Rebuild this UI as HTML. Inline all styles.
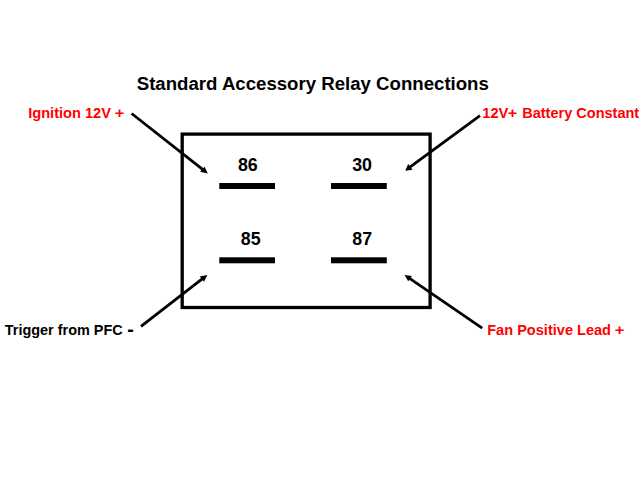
<!DOCTYPE html>
<html><head><meta charset="utf-8">
<style>
html,body{margin:0;padding:0;background:#fff;width:640px;height:480px;overflow:hidden}
svg{display:block}
text{font-family:"Liberation Sans",sans-serif;font-weight:bold;white-space:pre}
</style></head><body>
<svg width="640" height="480" viewBox="0 0 640 480">
<rect x="0" y="0" width="640" height="480" fill="#fff"/>
<text x="136.76" y="89.8" font-size="18.3" fill="#000" textLength="352.10" lengthAdjust="spacingAndGlyphs">Standard Accessory Relay Connections</text>
<text x="28.22" y="118.4" font-size="14.9" fill="#f00" textLength="82.74" lengthAdjust="spacingAndGlyphs">Ignition 12V</text>
<text x="114.71" y="117.7" font-size="15.5" fill="#f00" textLength="9.64" lengthAdjust="spacingAndGlyphs">+</text>
<text x="482.27" y="118.4" font-size="14.9" fill="#f00" textLength="26.16" lengthAdjust="spacingAndGlyphs">12V</text>
<text x="507.82" y="117.7" font-size="15.4" fill="#f00" textLength="9.52" lengthAdjust="spacingAndGlyphs">+</text>
<text x="522.23" y="118.4" font-size="14.9" fill="#f00" textLength="116.98" lengthAdjust="spacingAndGlyphs">Battery Constant</text>
<text x="4.84" y="335.3" font-size="14.9" fill="#000" textLength="117.83" lengthAdjust="spacingAndGlyphs">Trigger from PFC</text>
<text x="127.23" y="335.8" font-size="19.3" fill="#000" textLength="6.56" lengthAdjust="spacingAndGlyphs">-</text>
<text x="487.23" y="335.3" font-size="14.9" fill="#f00" textLength="123.80" lengthAdjust="spacingAndGlyphs">Fan Positive Lead</text>
<text x="614.71" y="334.7" font-size="15.5" fill="#f00" textLength="9.64" lengthAdjust="spacingAndGlyphs">+</text>
<text x="237.94" y="171" font-size="18.4" fill="#000" textLength="19.80" lengthAdjust="spacingAndGlyphs">86</text>
<text x="352.19" y="171" font-size="18.4" fill="#000" textLength="19.80" lengthAdjust="spacingAndGlyphs">30</text>
<text x="240.74" y="245" font-size="18.4" fill="#000" textLength="19.80" lengthAdjust="spacingAndGlyphs">85</text>
<text x="352.24" y="245" font-size="18.4" fill="#000" textLength="19.80" lengthAdjust="spacingAndGlyphs">87</text>
<rect x="182.2" y="134.1" width="247.9" height="173.4" fill="none" stroke="#000" stroke-width="3.3"/>
<rect x="219.3" y="183" width="55.7" height="6" fill="#000"/>
<rect x="331" y="183" width="55.8" height="6" fill="#000"/>
<rect x="219.3" y="257.3" width="55.7" height="6" fill="#000"/>
<rect x="331" y="257.3" width="55.8" height="6" fill="#000"/>
<g stroke="#000" stroke-width="2.8" stroke-linecap="butt">
<line x1="131.6" y1="113.5" x2="204.2" y2="170.7"/>
<line x1="480" y1="115.6" x2="408.55" y2="168.2"/>
<line x1="141" y1="326.4" x2="203.8" y2="277.7"/>
<line x1="482.2" y1="328.2" x2="408.1" y2="277.4"/>
</g>
<g fill="#000">
<polygon points="207.8,173.5 200.1,171.7 204.5,166.8"/>
<polygon points="405.2,170.7 408.2,164.1 412.5,169.7"/>
<polygon points="207.4,275.1 203.9,281.7 199.8,276.5"/>
<polygon points="404.5,274.9 412,276.1 408.2,281.3"/>
</g>

</svg>
</body></html>
